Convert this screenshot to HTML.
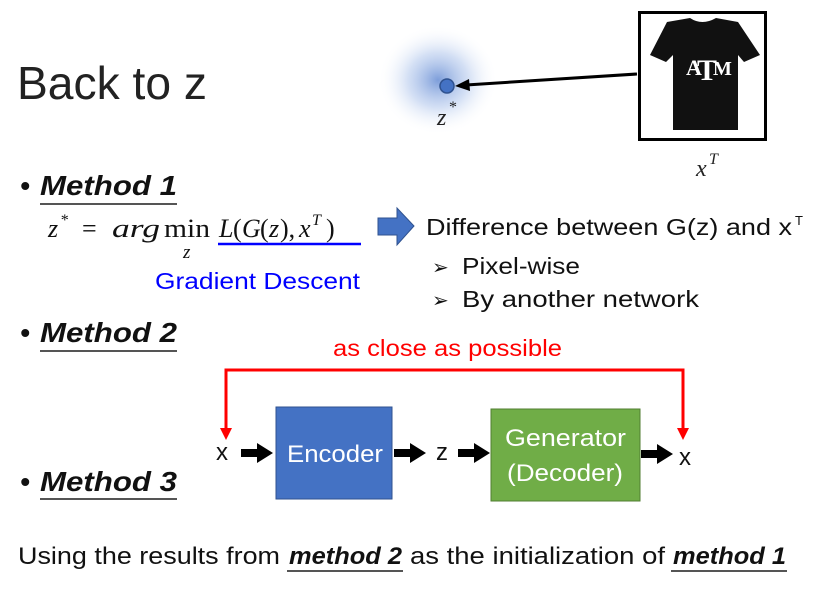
<!DOCTYPE html>
<html><head><meta charset="utf-8"><style>
html,body{margin:0;padding:0;background:#fff}
svg{display:block}
.s{font-family:"Liberation Sans",sans-serif}
.r{font-family:"Liberation Serif",serif}
</style></head><body>
<svg width="816" height="591" viewBox="0 0 816 591" xmlns="http://www.w3.org/2000/svg">
<defs>
<radialGradient id="g" cx="0.5" cy="0.5" r="0.5">
<stop offset="0" stop-color="#6f93d6" stop-opacity="0.9"/>
<stop offset="0.5" stop-color="#a8c0ea" stop-opacity="0.5"/>
<stop offset="1" stop-color="#fff" stop-opacity="0"/>
</radialGradient>
</defs>
<text class="s" x="17" y="99" font-size="46" fill="#222" textLength="190" lengthAdjust="spacingAndGlyphs">Back to z</text>
<ellipse cx="438" cy="80" rx="60" ry="55" fill="url(#g)"/>
<circle cx="447" cy="86" r="7" fill="#4472c4" stroke="#2f528f" stroke-width="1.5"/>
<text class="r" x="437" y="125" font-size="24" font-style="italic" fill="#222">z</text>
<text class="r" x="449" y="112" font-size="16" fill="#222">*</text>
<line x1="637" y1="74" x2="466" y2="85" stroke="#000" stroke-width="3"/>
<polygon points="455,86 469,79 470,91" fill="#000"/>
<rect x="639.5" y="12.5" width="126" height="127" fill="#fff" stroke="#000" stroke-width="3"/>
<path d="M667,22 L690,18 Q702,26 716,18 L738,22 L760,55 L744,62 L738,55 L738,130 L673,130 L673,55 L666,62 L650,55 Z" fill="#111"/>
<text class="r" x="686" y="75" font-size="22" font-weight="bold" fill="#fff">A</text>
<text class="r" x="697" y="80" font-size="30" font-weight="bold" fill="#fff">T</text>
<text class="r" x="713" y="75" font-size="20" font-weight="bold" fill="#fff">M</text>
<text class="r" x="696" y="176" font-size="24" font-style="italic" fill="#222">x</text>
<text class="r" x="709" y="164" font-size="16" font-style="italic" fill="#222">T</text>

<g class="s" font-size="28" font-weight="bold" font-style="italic" fill="#111">
<text x="20" y="195">•</text><text x="40" y="195" textLength="137" lengthAdjust="spacingAndGlyphs">Method 1</text>
<text x="20" y="342">•</text><text x="40" y="342" textLength="137" lengthAdjust="spacingAndGlyphs">Method 2</text>
<text x="20" y="491">•</text><text x="40" y="491" textLength="137" lengthAdjust="spacingAndGlyphs">Method 3</text>
</g>
<g stroke="#555" stroke-width="2">
<line x1="40" y1="204" x2="177" y2="204"/>
<line x1="40" y1="351" x2="177" y2="351"/>
<line x1="40" y1="499" x2="177" y2="499"/>
</g>
<g class="r" font-size="26" fill="#111" font-style="italic">
<text x="48" y="237">z</text>
<text x="60" y="225" font-size="16">*</text>
<text x="82" y="237" font-style="normal">=</text>
<text x="112" y="237" textLength="48" lengthAdjust="spacingAndGlyphs">arg</text>
<text x="164" y="237" font-style="normal" textLength="46" lengthAdjust="spacingAndGlyphs">min</text>
<text x="183" y="258" font-size="19">z</text>
<text x="219" y="237">L</text><text x="233" y="237" font-style="normal">(</text><text x="242" y="237">G</text><text x="260" y="237" font-style="normal">(</text><text x="269" y="237">z</text><text x="280" y="237" font-style="normal">),</text><text x="299" y="237">x</text><text x="312" y="225" font-size="16">T</text><text x="326" y="237" font-style="normal">)</text>
</g>
<line x1="218" y1="244" x2="361" y2="244" stroke="#0000ff" stroke-width="2.5"/>
<text class="s" x="155" y="289" font-size="23" fill="#0000ff" textLength="205" lengthAdjust="spacingAndGlyphs">Gradient Descent</text>
<polygon points="378,218 397,218 397,208 414,226 397,245 397,235 378,235" fill="#4472c4" stroke="#2f528f" stroke-width="1"/>
<text class="s" x="426" y="235" font-size="23" fill="#111" textLength="366" lengthAdjust="spacingAndGlyphs">Difference between G(z) and x</text>
<text class="s" x="795" y="225" font-size="13" fill="#111">T</text>
<text class="s" x="432" y="274" font-size="20" fill="#111">➢</text><text class="s" x="462" y="274" font-size="23" fill="#111" textLength="118" lengthAdjust="spacingAndGlyphs">Pixel-wise</text>
<text class="s" x="432" y="307" font-size="20" fill="#111">➢</text><text class="s" x="462" y="307" font-size="23" fill="#111" textLength="237" lengthAdjust="spacingAndGlyphs">By another network</text>

<text class="s" x="333" y="356" font-size="23" fill="#ff0000" textLength="229" lengthAdjust="spacingAndGlyphs">as close as possible</text>
<polyline points="226,430 226,370 683,370 683,430" fill="none" stroke="#ff0000" stroke-width="3"/>
<polygon points="220,428 232,428 226,440" fill="#ff0000"/>
<polygon points="677,428 689,428 683,440" fill="#ff0000"/>

<rect x="276" y="407" width="116" height="92" fill="#4472c4" stroke="#2f528f"/>
<text class="s" x="287" y="462" font-size="24" fill="#fff" textLength="96" lengthAdjust="spacingAndGlyphs">Encoder</text>
<rect x="491" y="409" width="149" height="92" fill="#70ad47" stroke="#507e32"/>
<text class="s" x="505" y="446" font-size="24" fill="#fff" textLength="121" lengthAdjust="spacingAndGlyphs">Generator</text>
<text class="s" x="507" y="481" font-size="24" fill="#fff" textLength="116" lengthAdjust="spacingAndGlyphs">(Decoder)</text>
<g class="s" font-size="24" fill="#111">
<text x="216" y="460">x</text>
<text x="436" y="460">z</text>
<text x="679" y="465">x</text>
</g>
<g fill="#000">
<polygon points="241,449 257,449 257,443 273,453 257,463 257,457 241,457"/>
<polygon points="394,449 410,449 410,443 426,453 410,463 410,457 394,457"/>
<polygon points="458,449 474,449 474,443 490,453 474,463 474,457 458,457"/>
<polygon points="641,450 657,450 657,444 673,454 657,464 657,458 641,458"/>
</g>

<g class="s" font-size="24" fill="#111">
<text x="18" y="564" textLength="262" lengthAdjust="spacingAndGlyphs">Using the results from</text>
<text x="289" y="564" font-weight="bold" font-style="italic" textLength="113" lengthAdjust="spacingAndGlyphs">method 2</text>
<text x="410" y="564" textLength="255" lengthAdjust="spacingAndGlyphs">as the initialization of</text>
<text x="673" y="564" font-weight="bold" font-style="italic" textLength="113" lengthAdjust="spacingAndGlyphs">method 1</text>
</g>
<line x1="287" y1="571" x2="403" y2="571" stroke="#555" stroke-width="2"/>
<line x1="671" y1="571" x2="787" y2="571" stroke="#555" stroke-width="2"/>
</svg>
</body></html>
